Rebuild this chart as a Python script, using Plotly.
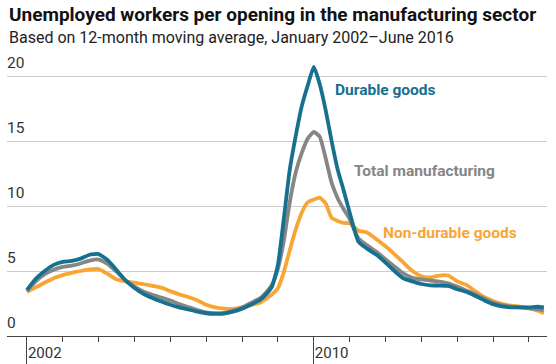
import plotly.graph_objects as go

dates = [
    "2002-01-01", "2002-04-01", "2002-07-01", "2002-10-01",
    "2003-01-01", "2003-04-01", "2003-07-01", "2003-10-01",
    "2004-01-01", "2004-04-01", "2004-07-01", "2004-10-01",
    "2005-01-01", "2005-04-01", "2005-07-01", "2005-10-01",
    "2006-01-01", "2006-04-01", "2006-07-01", "2006-10-01",
    "2007-01-01", "2007-04-01", "2007-07-01", "2007-10-01",
    "2008-01-01", "2008-04-01", "2008-07-01", "2008-09-01", "2008-11-01",
    "2009-01-01", "2009-03-01", "2009-05-01", "2009-07-01", "2009-09-01", "2009-11-01",
    "2010-01-01", "2010-03-01", "2010-05-01", "2010-07-01", "2010-09-01", "2010-11-01",
    "2011-01-01", "2011-04-01", "2011-07-01", "2011-10-01",
    "2012-01-01", "2012-04-01", "2012-07-01", "2012-10-01",
    "2013-01-01", "2013-04-01", "2013-07-01", "2013-10-01",
    "2014-01-01", "2014-04-01", "2014-07-01", "2014-10-01",
    "2015-01-01", "2015-04-01", "2015-07-01", "2015-10-01",
    "2016-01-01", "2016-04-01", "2016-06-01",
]

durable = [
    3.55, 4.4, 5.0, 5.47,
    5.7, 5.78, 5.95, 6.25,
    6.3, 5.85, 5.08, 4.28,
    3.7, 3.25, 2.93, 2.65,
    2.4, 2.2, 2.05, 1.88,
    1.75, 1.7, 1.72, 1.87,
    2.1, 2.42, 2.77, 3.2, 3.8,
    5.5, 9.0, 12.8, 15.4, 17.7, 19.3,
    20.7, 19.4, 17.4, 15.0, 12.8, 11.2,
    9.5, 7.25, 6.7, 6.25,
    5.65, 5.0, 4.44, 4.2,
    4.0, 3.9, 3.88, 3.85,
    3.6, 3.4, 3.1, 2.75,
    2.45, 2.28, 2.2, 2.2,
    2.2, 2.25, 2.2,
]

total = [
    3.45, 4.2, 4.75, 5.1,
    5.32, 5.42, 5.58, 5.8,
    5.88, 5.55, 4.95, 4.28,
    3.8, 3.42, 3.17, 2.95,
    2.72, 2.45, 2.23, 2.0,
    1.82, 1.76, 1.78, 1.95,
    2.2, 2.55, 2.9, 3.35, 3.95,
    5.2, 7.3, 10.3, 12.6, 14.1, 15.2,
    15.7, 15.35, 13.7, 11.8, 10.6, 9.75,
    9.0, 7.5, 6.95, 6.48,
    5.9, 5.35, 4.82, 4.47,
    4.35, 4.27, 4.18, 4.05,
    3.8, 3.5, 3.22, 2.88,
    2.55, 2.38, 2.26, 2.2,
    2.13, 2.05, 2.0,
]

nondurable = [
    3.4, 3.75, 4.1, 4.45,
    4.68, 4.85, 5.0, 5.12,
    5.15, 4.78, 4.36, 4.2,
    4.1, 4.0, 3.86, 3.72,
    3.45, 3.2, 3.0, 2.75,
    2.4, 2.2, 2.1, 2.08,
    2.2, 2.38, 2.56, 2.85, 3.2,
    3.7, 4.9, 6.6, 8.2, 9.5, 10.3,
    10.5, 10.65, 10.2, 9.1, 8.85, 8.7,
    8.67, 8.1, 7.95, 7.45,
    6.9, 6.3, 5.65, 5.0,
    4.6, 4.5, 4.65, 4.65,
    4.2, 3.95, 3.45, 3.0,
    2.7, 2.47, 2.33, 2.26,
    2.15, 1.95, 1.75,
]

series_names = ["Non-durable goods", "Total manufacturing", "Durable goods"]
series_colors = ["#f9a533", "#868686", "#16708f"]
series_values = [nondurable, total, durable]

label_dates = ["2011-11-14", "2011-01-20", "2010-07-15"]
label_values = [7.9, 12.7, 18.9]

y_ticks = [0, 5, 10, 15, 20]
x_major_ticks = ["2002-01-01", "2010-01-01"]
x_major_labels = ["2002", "2010"]

FONT = "Roboto, sans-serif"
TOP = 46
PLOT_H = 336 - TOP

fig = go.Figure()
for name, col, vals in zip(series_names, series_colors, series_values):
    fig.add_trace(go.Scatter(x=dates, y=vals, mode="lines", name=name,
                             line=dict(color=col, width=3.8, shape="spline", smoothing=0.5)))

for name, col, d, v in zip(series_names, series_colors, label_dates, label_values):
    fig.add_annotation(x=d, y=v, text="<b>%s</b>" % name, showarrow=False,
                       xanchor="left", yanchor="middle",
                       font=dict(family=FONT, size=15.5, color=col))

fig.add_annotation(xref="paper", yref="paper", x=0, y=1 + (TOP - 14) / PLOT_H,
                   text="<b>Unemployed workers per opening in the manufacturing sector</b>",
                   showarrow=False, xanchor="left", yanchor="middle",
                   font=dict(family=FONT, size=19, color="#111111"))
fig.add_annotation(xref="paper", yref="paper", x=0, y=1 + (TOP - 37) / PLOT_H,
                   text="Based on 12-month moving average, January 2002\u2013June 2016",
                   showarrow=False, xanchor="left", yanchor="middle",
                   font=dict(family=FONT, size=16, color="#222222"))

fig.update_layout(
    width=556, height=364,
    margin=dict(l=7, r=9, t=TOP, b=28, autoexpand=False),
    paper_bgcolor="white", plot_bgcolor="white",
    showlegend=False,
    font=dict(family=FONT, size=15, color="#333333"),
    xaxis=dict(
        type="date", automargin=False,
        range=["2001-06-12", "2016-07-03"],
        tickvals=x_major_ticks, ticktext=x_major_labels,
        ticks="outside", ticklen=27, tickcolor="#444444", tickwidth=1,
        ticklabelposition="outside right", ticklabelstandoff=3,
        showline=True, linecolor="#444444", linewidth=1,
        showgrid=False, zeroline=False,
        minor=dict(dtick="M12", tick0="2002-01-01", ticks="outside",
                   ticklen=5, tickcolor="#444444", showgrid=False),
        tickfont=dict(family=FONT, size=15, color="#333333"),
    ),
    yaxis=dict(
        automargin=False,
        range=[0, PLOT_H / 13],
        tickvals=y_ticks,
        ticks="", ticklabelposition="inside top", ticklabelstandoff=-3,
        ticklabelshift=-3,
        showgrid=True, gridcolor="#cccccc", gridwidth=1,
        zeroline=False, showline=False,
        tickfont=dict(family=FONT, size=15.5, color="#333333"),
    ),
)

fig.write_html("out.html", config={"displayModeBar": False},
               post_script="document.body.style.margin='0';")
